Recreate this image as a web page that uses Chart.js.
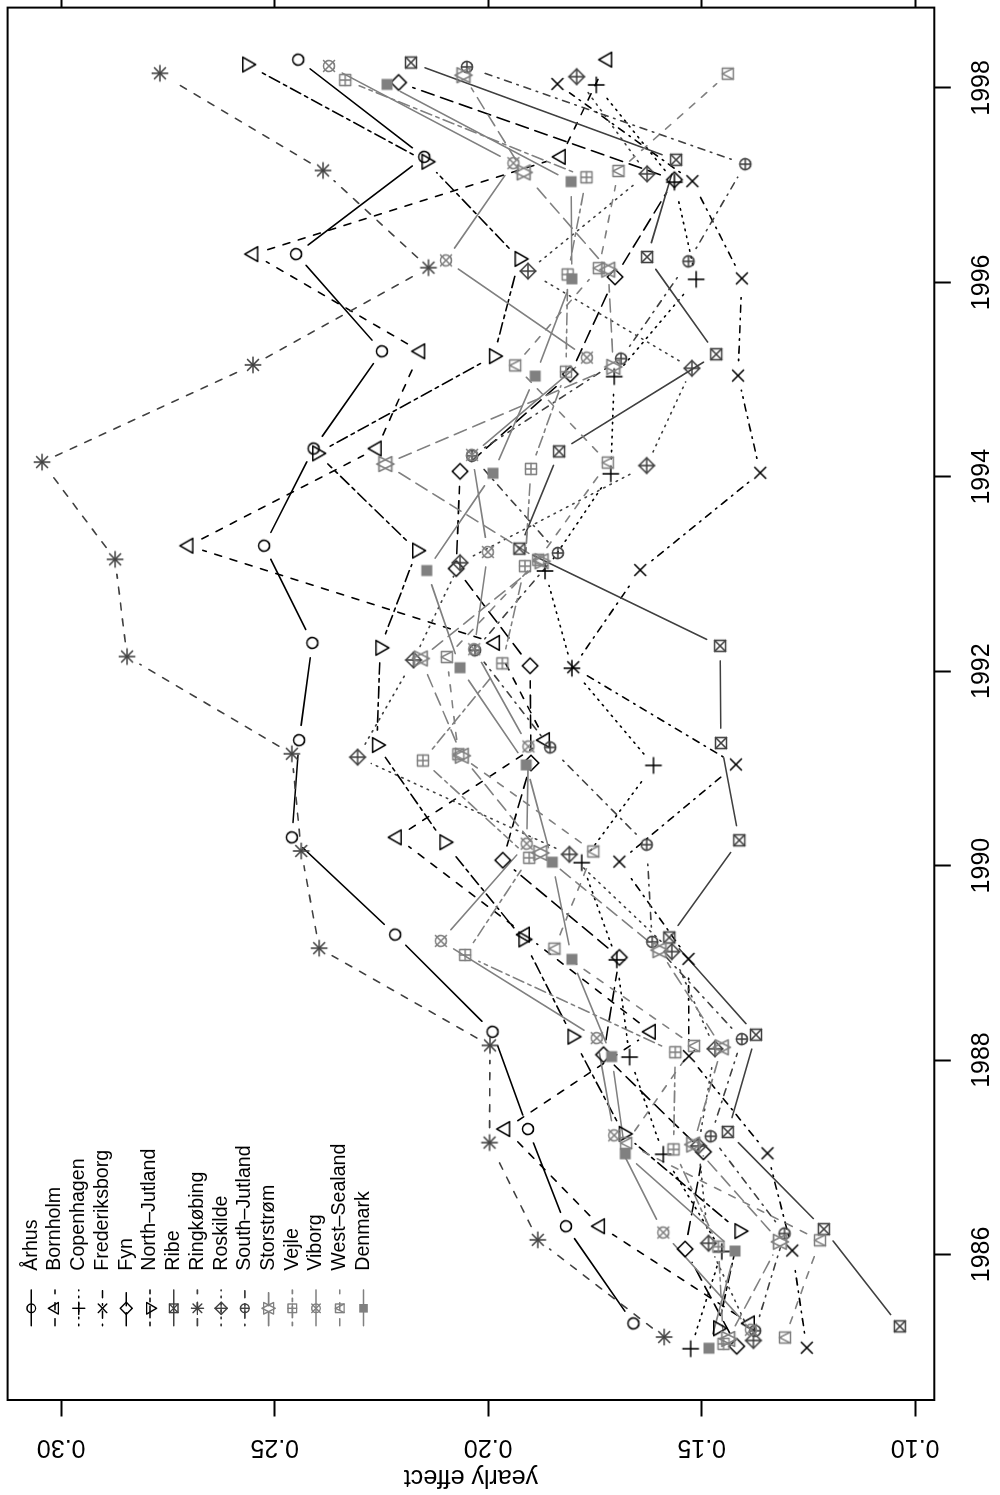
<!DOCTYPE html>
<html>
<head>
<meta charset="utf-8">
<script src="https://cdn.jsdelivr.net/npm/chart.js@4/dist/chart.umd.min.js"></script>
<style>
  html, body { margin: 0; padding: 0; background: #fff; overflow: hidden; width: 1000px; height: 1495px; }
  /* the plot is drawn landscape and turned a quarter left, like the original figure */
  #turn { position: absolute; left: 0; top: 0; width: 1495px; height: 1000px;
          transform-origin: 0 0; transform: translateY(1495px) rotate(-90deg); }
  canvas { display: block; }
</style>
</head>
<body>
<div id="turn"><canvas id="chart" width="1495" height="1000" style="width:1495px;height:1000px"></canvas></div>
<script>
/* =========================================
   DATA
   ========================================= */
const years = [1985, 1986, 1987, 1988, 1989, 1990, 1991, 1992, 1993, 1994, 1995, 1996, 1997, 1998];

const regions = ['Århus', 'Bornholm', 'Copenhagen', 'Frederiksborg', 'Fyn', 'North–Jutland', 'Ribe',
                 'Ringkøbing', 'Roskilde', 'South–Jutland', 'Storstrøm', 'Vejle', 'Viborg',
                 'West–Sealand', 'Denmark'];

// each region is plotted slightly to the right of the whole year
const yearShift = [0.29, 0.29, 0.03, 0.04, 0.055, 0.24, 0.26, 0.15, 0.115, 0.215, 0.13, 0.08, 0.225, 0.145, 0.035];

const effAarhus        = [0.1660, 0.1818, 0.1907, 0.1990, 0.2218, 0.2460, 0.2443, 0.2412, 0.2525, 0.2409, 0.2249, 0.2450, 0.2150, 0.2445];
const effBornholm      = [0.1387, 0.1738, 0.1960, 0.1619, 0.1914, 0.2214, 0.1867, 0.1984, 0.2702, 0.2261, 0.2159, 0.2550, 0.1830, 0.1721];
const effCopenhagen    = [0.1526, 0.1453, 0.1590, 0.1669, 0.1699, 0.1781, 0.1613, 0.1804, 0.1867, 0.1713, 0.1705, 0.1513, 0.1564, 0.1747];
const effFrederiksborg = [0.1254, 0.1288, 0.1346, 0.1530, 0.1531, 0.1693, 0.1420, 0.1801, 0.1644, 0.1363, 0.1415, 0.1406, 0.1522, 0.1838];
const effFyn           = [0.1418, 0.1539, 0.1496, 0.1730, 0.1693, 0.1966, 0.1900, 0.1902, 0.2075, 0.2066, 0.1808, 0.1703, 0.1564, 0.2210];
const effNorthJutland  = [0.1462, 0.1412, 0.1683, 0.1803, 0.1918, 0.2103, 0.2261, 0.2253, 0.2167, 0.2401, 0.1987, 0.1927, 0.2145, 0.2565];
const effRibe          = [0.1036, 0.1214, 0.1439, 0.1373, 0.1576, 0.1412, 0.1455, 0.1457, 0.1927, 0.1834, 0.1466, 0.1628, 0.1560, 0.2181];
const effRingkobing    = [0.1588, 0.1884, 0.1997, 0.1996, 0.2396, 0.2438, 0.2460, 0.2846, 0.2874, 0.3045, 0.2551, 0.2140, 0.2387, 0.2769];
const effRoskilde      = [0.1379, 0.1484, 0.1508, 0.1469, 0.1570, 0.1810, 0.2306, 0.2175, 0.2066, 0.1629, 0.1523, 0.1907, 0.1628, 0.1793];
const effSouthJutland  = [0.1375, 0.1306, 0.1479, 0.1406, 0.1616, 0.1629, 0.1855, 0.2031, 0.1837, 0.2038, 0.1689, 0.1531, 0.1398, 0.2050];
const effStorstrom     = [0.1438, 0.1317, 0.1520, 0.1453, 0.1599, 0.1878, 0.2062, 0.2158, 0.1875, 0.2241, 0.1707, 0.1719, 0.1917, 0.2058];
const effVejle         = [0.1449, 0.1461, 0.1566, 0.1562, 0.2054, 0.1904, 0.2153, 0.1967, 0.1914, 0.1900, 0.1818, 0.1814, 0.1770, 0.2335];
const effViborg        = [0.1385, 0.1590, 0.1705, 0.1746, 0.2111, 0.1910, 0.1906, 0.2033, 0.2001, 0.2038, 0.1769, 0.2099, 0.1941, 0.2373];
const effWestSealand   = [0.1305, 0.1223, 0.1677, 0.1518, 0.1845, 0.1754, 0.2070, 0.2097, 0.1883, 0.1720, 0.1937, 0.1741, 0.1695, 0.1439];
const effDenmark       = [0.1483, 0.1422, 0.1679, 0.1711, 0.1804, 0.1850, 0.1911, 0.2066, 0.2144, 0.1989, 0.1890, 0.1804, 0.1806, 0.2237];

const effects = [effAarhus, effBornholm, effCopenhagen, effFrederiksborg, effFyn, effNorthJutland, effRibe,
                 effRingkobing, effRoskilde, effSouthJutland, effStorstrom, effVejle, effViborg,
                 effWestSealand, effDenmark];

const yearTicks   = [1986, 1988, 1990, 1992, 1994, 1996, 1998];
const effectTicks = [0.10, 0.15, 0.20, 0.25, 0.30];
const yearRange   = [1984.503, 1998.826];
const effectRange = [0.09553, 0.31257];


/* =========================================
   STYLES (R pch / lty / col look)
   ========================================= */
const pchList = [1, 2, 3, 4, 5, 6, 7, 8, 9, 10, 11, 12, 13, 14, 15];
const ltyList = [1, 2, 3, 4, 5, 6, 1, 2, 3, 4, 5, 6, 1, 2, 1];
const colList = ['#000', '#000', '#000', '#000', '#000', '#000',
                 '#404040', '#404040', '#404040', '#404040',
                 '#808080', '#808080', '#808080', '#808080', '#808080'];
const dashes = { 1: [], 2: [7, 9], 3: [1.5, 5.5], 4: [1.5, 6, 7, 6], 5: [13, 7], 6: [3.5, 4.5, 11.5, 4.5] };

const FONT = "'Liberation Sans', Arial, Helvetica, sans-serif";
const SYM_R = 5.5;      // plotting symbol radius
const LEG_R = 4.3;      // legend symbol radius
const GAP = 15;         // type="b" gap around each point
const LW = 1.6;

function drawPch(ctx, pch, x, y, R, col, lw) {
  const s2 = Math.SQRT2 * R;
  ctx.save();
  ctx.strokeStyle = col; ctx.fillStyle = col; ctx.lineWidth = lw;
  ctx.setLineDash([]); ctx.lineCap = 'round'; ctx.lineJoin = 'round';
  const seg = (x1, y1, x2, y2) => { ctx.beginPath(); ctx.moveTo(x1, y1); ctx.lineTo(x2, y2); ctx.stroke(); };
  const circle = r => { ctx.beginPath(); ctx.arc(x, y, r, 0, 2 * Math.PI); ctx.stroke(); };
  const square = h => { ctx.strokeRect(x - h, y - h, 2 * h, 2 * h); };
  const poly = pts => { ctx.beginPath(); pts.forEach((p, k) => k ? ctx.lineTo(p[0], p[1]) : ctx.moveTo(p[0], p[1])); ctx.closePath(); ctx.stroke(); };
  const plus = h => { seg(x - h, y, x + h, y); seg(x, y - h, x, y + h); };
  const times = h => { seg(x - h, y - h, x + h, y + h); seg(x - h, y + h, x + h, y - h); };
  const diamond = h => poly([[x, y - h], [x + h, y], [x, y + h], [x - h, y]]);
  const tr = 1.5551 * R, txc = 1.3468 * R, tyc = 0.7776 * R;
  switch (pch) {
    case 1: circle(R); break;
    case 2: poly([[x, y - tr], [x + txc, y + tyc], [x - txc, y + tyc]]); break;
    case 3: plus(s2); break;
    case 4: times(R); break;
    case 5: diamond(s2); break;
    case 6: poly([[x, y + tr], [x + txc, y - tyc], [x - txc, y - tyc]]); break;
    case 7: square(R); times(R); break;
    case 8: times(R); plus(s2); break;
    case 9: diamond(s2); plus(s2); break;
    case 10: circle(R); plus(R); break;
    case 11: {
      const yc = 0.5 * (tyc + tr);
      poly([[x, y + tr], [x + txc, y - yc], [x - txc, y - yc]]);
      poly([[x, y - tr], [x + txc, y + yc], [x - txc, y + yc]]);
      break;
    }
    case 12: square(R); plus(R); break;
    case 13: circle(R); times(R); break;
    case 14: square(R); seg(x - R, y + R, x, y - R); seg(x, y - R, x + R, y + R); break;
    case 15: ctx.fillRect(x - R, y - R, 2 * R, 2 * R); break;
  }
  ctx.restore();
}

function makeSymbol(pch, col) {
  const c = document.createElement('canvas');
  c.width = 24; c.height = 24;
  drawPch(c.getContext('2d'), pch, 12, 12, SYM_R, col, LW);
  return c;
}


/* =========================================
   PLUGINS
   ========================================= */
// lines with a gap round each point (R type = "b")
const gapLines = {
  id: 'gapLines',
  beforeDatasetsDraw(chart) {
    const ctx = chart.ctx, a = chart.chartArea;
    ctx.save();
    ctx.beginPath(); ctx.rect(a.left, a.top, a.right - a.left, a.bottom - a.top); ctx.clip();
    ctx.lineCap = 'round';
    chart.data.datasets.forEach((ds, i) => {
      const pts = chart.getDatasetMeta(i).data;
      ctx.strokeStyle = ds.borderColor;
      ctx.lineWidth = ds.borderWidth;
      ctx.setLineDash(ds.borderDash);
      for (let k = 1; k < pts.length; k++) {
        const p0 = pts[k - 1], p1 = pts[k];
        const dx = p1.x - p0.x, dy = p1.y - p0.y, d = Math.hypot(dx, dy);
        if (d <= 2 * GAP) continue;
        const f = GAP / d;
        ctx.beginPath();
        ctx.moveTo(p0.x + dx * f, p0.y + dy * f);
        ctx.lineTo(p1.x - dx * f, p1.y - dy * f);
        ctx.stroke();
      }
    });
    ctx.restore();
  }
};

// box round the plot region + R style legend
const frameAndLegend = {
  id: 'frameAndLegend',
  afterDraw(chart) {
    const ctx = chart.ctx, a = chart.chartArea;
    ctx.save();
    ctx.strokeStyle = '#000'; ctx.lineWidth = 2; ctx.setLineDash([]);
    ctx.strokeRect(a.left, a.top, a.right - a.left, a.bottom - a.top);

    const segL = a.left + 74.3, segR = a.left + 110, symX = a.left + 91.7, txtX = a.left + 129.3;
    const row0 = a.top + 23.7, rowH = 23.73;
    ctx.font = '19.6px ' + FONT;
    ctx.textBaseline = 'middle'; ctx.textAlign = 'left';
    chart.data.datasets.forEach((ds, i) => {
      const y = row0 + i * rowH;
      ctx.strokeStyle = ds.borderColor; ctx.lineWidth = ds.borderWidth;
      ctx.lineCap = 'round'; ctx.setLineDash(ds.borderDash);
      ctx.beginPath(); ctx.moveTo(segL, y); ctx.lineTo(segR, y); ctx.stroke();
      drawPch(ctx, pchList[i], symX, y, LEG_R, ds.borderColor, 1.4);
      ctx.fillStyle = '#000';
      ctx.fillText(ds.label, txtX, y);
    });
    ctx.restore();
  }
};


/* =========================================
   CHART
   ========================================= */
function initChart() {
  const ctx = document.getElementById('chart').getContext('2d');
  Chart.defaults.font.family = FONT;
  Chart.defaults.font.size = 25;
  Chart.defaults.color = '#000';

  const datasets = regions.map((name, i) => ({
    label: name,
    data: years.map((yr, k) => ({ x: yr + yearShift[i], y: effects[i][k] })),
    showLine: false,
    borderColor: colList[i],
    borderWidth: LW,
    borderDash: dashes[ltyList[i]],
    pointStyle: makeSymbol(pchList[i], colList[i]),
    pointRadius: 6,
    pointHoverRadius: 6,
    order: regions.length - i
  }));

  const tickGrid = { drawOnChartArea: false, drawTicks: true, tickLength: 16.5, tickWidth: 2, tickColor: '#000' };

  new Chart(ctx, {
    type: 'scatter',
    data: { datasets },
    options: {
      responsive: false,
      devicePixelRatio: 1,
      animation: false,
      events: [],
      layout: { padding: { top: 7.3, left: 0, right: 0, bottom: 0 } },
      plugins: { legend: { display: false }, tooltip: { enabled: false } },
      scales: {
        x: {
          type: 'linear', position: 'bottom',
          min: yearRange[0], max: yearRange[1],
          afterBuildTicks: s => { s.ticks = yearTicks.map(v => ({ value: v })); },
          ticks: { autoSkip: false, maxRotation: 0, padding: 16.7, color: '#000', font: { size: 25 },
                   callback: v => String(v) },
          grid: tickGrid,
          border: { display: false },
          afterFit: s => { s.height = 65.7; s.paddingLeft = 0; s.paddingRight = 0; }
        },
        y: {
          type: 'linear', position: 'left',
          min: effectRange[0], max: effectRange[1],
          afterBuildTicks: s => { s.ticks = effectTicks.map(v => ({ value: v })); },
          ticks: { autoSkip: false, minRotation: 90, maxRotation: 90, crossAlign: 'center', padding: 5.9,
                   color: '#000', font: { size: 25 }, callback: v => v.toFixed(2) },
          grid: tickGrid,
          border: { display: false },
          title: { display: true, text: 'yearly effect', color: '#000', font: { size: 25 }, padding: { top: 3, bottom: 0 } },
          afterFit: s => { s.width = 95; s.paddingTop = 0; s.paddingBottom = 0; }
        },
        y2: {
          type: 'linear', position: 'right',
          min: effectRange[0], max: effectRange[1],
          afterBuildTicks: s => { s.ticks = effectTicks.map(v => ({ value: v })); },
          ticks: { display: false },
          grid: tickGrid,
          border: { display: false },
          afterFit: s => { s.width = 6.3; s.paddingTop = 0; s.paddingBottom = 0; }
        }
      }
    },
    plugins: [gapLines, frameAndLegend]
  });
}

window.onload = initChart;
</script>
</body>
</html>
